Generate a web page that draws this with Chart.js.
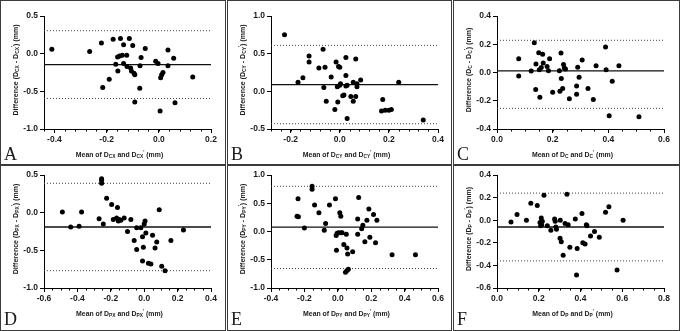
<!DOCTYPE html>
<html><head><meta charset="utf-8">
<script src="https://cdn.jsdelivr.net/npm/chart.js@4.4.1/dist/chart.umd.min.js"></script>
<style>
html,body{margin:0;padding:0;background:#fff}
body{width:680px;height:331px;position:relative;overflow:hidden;font-family:"Liberation Sans",Arial,sans-serif;color:#1a1a1a}
.panel{position:absolute;background:#fff}
.frame{position:absolute;left:0;top:0;right:0;bottom:0;border:1px solid #3c3c3c;pointer-events:none}
.panel canvas{position:absolute;left:0;top:0}
.xt{position:absolute;font-weight:bold;font-size:6.9px;white-space:nowrap;transform:translate(-50%,-50%);line-height:1}
.yt{position:absolute;font-weight:bold;font-size:7px;white-space:nowrap;transform:translate(-50%,-50%) rotate(-90deg);line-height:1}
sub{font-size:70%;vertical-align:-0.25em;line-height:0}
sup{font-size:70%;vertical-align:0.55em;line-height:0}
.lt{position:absolute;font-family:"Liberation Serif","Times New Roman",serif;font-size:18px;line-height:1}
</style>
</head><body>
<script>
// ---------- Panel A : D_CX ----------
const aMeanX = [-0.41,-0.265,-0.22,-0.215,-0.19,-0.175,-0.165,-0.158,-0.157,-0.15,-0.147,-0.14,-0.135,-0.135,-0.123,-0.122,-0.113,-0.108,-0.1,-0.105,-0.095,-0.092,-0.092,-0.073,-0.072,-0.068,-0.052,-0.012,-0.003,0.005,0.007,0.011,0.016,0.035,0.035,0.057,0.062,0.13];
const aDiff  = [0.06,0.03,0.14,-0.45,-0.34,0.19,-0.14,-0.045,-0.23,-0.03,0.2,-0.02,0.12,-0.13,-0.02,-0.17,0.2,-0.19,0.11,-0.23,-0.26,-0.28,-0.64,-0.46,-0.16,-0.05,0.07,-0.1,-0.13,-0.76,-0.32,-0.28,-0.25,0.05,-0.16,-0.06,-0.65,-0.31];
const aLines = [-0.145, 0.305, -0.595];           // bias, upper LoA, lower LoA
const aXTicks = [-0.4,-0.2,0.0,0.2];
const aYTicks = [-1.0,-0.5,0.0,0.5];

// ---------- Panel B : D_CY ----------
const bMeanX = [-0.225,-0.17,-0.15,-0.125,-0.125,-0.085,-0.06,-0.068,-0.065,-0.055,-0.035,-0.02,-0.015,-0.005,0.0,-0.01,-0.008,0.0,0.003,0.012,0.017,0.025,0.025,0.025,0.03,0.03,0.045,0.055,0.055,0.065,0.065,0.07,0.07,0.085,0.175,0.17,0.185,0.2,0.21,0.24,0.34];
const bDiff  = [0.75,0.12,0.18,0.47,0.39,0.31,0.32,0.56,0.05,-0.13,0.19,-0.24,0.39,0.33,0.32,0.06,-0.14,0.08,0.1,-0.06,-0.05,0.21,0.45,0.07,0.08,-0.36,-0.07,-0.13,0.12,0.43,-0.07,0.1,0.06,0.15,-0.11,-0.26,-0.25,-0.25,-0.24,0.12,-0.38];
const bLines = [0.09, 0.61, -0.43];
const bXTicks = [-0.2,0.0,0.2,0.4];
const bYTicks = [-0.5,0.0,0.5,1.0];

// ---------- Panel C : D_C ----------
const cMeanX = [0.078,0.078,0.123,0.134,0.14,0.139,0.15,0.152,0.154,0.159,0.164,0.166,0.18,0.185,0.189,0.2,0.224,0.226,0.23,0.231,0.236,0.239,0.242,0.246,0.26,0.286,0.286,0.29,0.295,0.306,0.327,0.346,0.356,0.39,0.392,0.403,0.414,0.438,0.51];
const cDiff  = [0.097,-0.024,0.01,0.21,0.06,-0.12,0.14,0.02,-0.175,0.036,0.13,0.067,0.043,0.012,0.097,-0.14,0.012,-0.133,0.138,-0.043,-0.114,0.057,0.031,0.024,-0.185,-0.095,-0.154,0.038,-0.033,0.088,-0.114,-0.192,0.048,0.18,0.02,-0.306,-0.062,0.048,-0.313];
const cLines = [0.012, 0.228, -0.254];
const cXTicks = [0.0,0.2,0.4,0.6];
const cYTicks = [-0.4,-0.2,0.0,0.2,0.4];

// ---------- Panel D : D_PX ----------
const dMeanX = [-0.49,-0.44,-0.39,-0.375,-0.27,-0.255,-0.255,-0.255,-0.245,-0.225,-0.195,-0.185,-0.16,-0.165,-0.155,-0.15,-0.14,-0.12,-0.1,-0.08,-0.06,-0.045,-0.045,-0.02,-0.01,-0.01,-0.005,0.0,0.005,0.01,0.025,0.04,0.05,0.065,0.075,0.09,0.105,0.125,0.16,0.235];
const dDiff  = [0.01,-0.19,-0.18,0.01,-0.08,0.45,0.43,0.39,-0.15,0.19,0.11,-0.09,0.07,-0.07,-0.11,-0.09,-0.1,-0.07,-0.25,-0.09,-0.37,-0.49,-0.2,-0.2,-0.32,-0.64,-0.46,-0.15,-0.11,-0.27,-0.67,-0.68,-0.3,-0.47,-0.39,0.04,-0.71,-0.77,-0.37,-0.23];
const dLines = [-0.19, 0.39, -0.77];
const dXTicks = [-0.6,-0.4,-0.2,0.0,0.2,0.4];
const dYTicks = [-1.0,-0.5,0.0,0.5];

// ---------- Panel E : D_PY ----------
const eMeanX = [-0.238,-0.244,-0.236,-0.2,-0.154,-0.154,-0.139,-0.113,-0.073,-0.081,-0.05,-0.014,-0.008,-0.01,-0.004,0.012,0.018,0.004,0.018,0.026,0.036,0.051,0.055,0.059,0.046,0.055,0.063,0.089,0.125,0.119,0.119,0.143,0.15,0.162,0.174,0.186,0.192,0.214,0.226,0.234,0.325,0.465];
const eDiff  = [0.58,0.27,0.26,0.06,0.8,0.75,0.47,0.33,0.14,0.02,0.47,0.58,-0.33,-0.07,-0.03,0.33,0.27,-0.02,-0.02,-0.02,-0.23,-0.05,-0.29,-0.4,-0.72,-0.69,-0.67,-0.36,0.6,0.22,-0.05,0.05,0.11,-0.18,0.2,0.4,-0.1,0.3,-0.2,0.2,-0.41,-0.41];
const eLines = [0.077, 0.8, -0.655];
const eXTicks = [-0.4,-0.2,0.0,0.2,0.4,0.6];
const eYTicks = [-1.0,-0.5,0.0,0.5,1.0];

// ---------- Panel F : D_P ----------
const fMeanX = [0.067,0.096,0.141,0.162,0.193,0.206,0.209,0.214,0.212,0.225,0.217,0.241,0.258,0.276,0.279,0.285,0.282,0.303,0.302,0.308,0.317,0.326,0.335,0.341,0.349,0.375,0.381,0.384,0.407,0.411,0.422,0.428,0.431,0.448,0.467,0.49,0.52,0.536,0.575,0.604];
const fDiff  = [-0.015,0.05,0.0,0.15,0.13,-0.02,-0.05,-0.04,0.02,0.22,-0.01,-0.05,-0.09,0.01,-0.01,-0.08,-0.06,0.0,-0.16,-0.19,-0.31,-0.03,0.23,-0.04,-0.24,0.01,-0.485,-0.25,0.06,-0.2,-0.21,-0.04,-0.05,-0.14,-0.1,-0.15,0.07,0.12,-0.44,0.0];
const fLines = [-0.06, 0.24, -0.36];
const fXTicks = [0.0,0.2,0.4,0.6,0.8];
const fYTicks = [-0.6,-0.4,-0.2,0.0,0.2,0.4];

const panelLetters = ['A','B','C','D','E','F'];
const panelSubs = ['CX','CY','C','PX','PY','P'];

// ---------- layout (positions only) ----------
const panels = [
  {L:panelLetters[0], sub:panelSubs[0], x:aMeanX, y:aDiff, lines:aLines, xt:aXTicks, yt:aYTicks, xr:[-0.44,0.2], yr:[-1,0.5], minor:0.04, box:[0,0,226,165], row:0},
  {L:panelLetters[1], sub:panelSubs[1], x:bMeanX, y:bDiff, lines:bLines, xt:bXTicks, yt:bYTicks, xr:[-0.28,0.4], yr:[-0.5,1], minor:0.04, box:[227,0,225,165], row:0},
  {L:panelLetters[2], sub:panelSubs[2], x:cMeanX, y:cDiff, lines:cLines, xt:cXTicks, yt:cYTicks, xr:[0,0.6], yr:[-0.4,0.4], minor:0.05, box:[453,0,227,165], row:0},
  {L:panelLetters[3], sub:panelSubs[3], x:dMeanX, y:dDiff, lines:dLines, xt:dXTicks, yt:dYTicks, xr:[-0.6,0.4], yr:[-1,0.5], minor:0.05, box:[0,165,226,166], row:1},
  {L:panelLetters[4], sub:panelSubs[4], x:eMeanX, y:eDiff, lines:eLines, xt:eXTicks, yt:eYTicks, xr:[-0.4,0.6], yr:[-1,1], minor:0.05, box:[227,165,225,166], row:1},
  {L:panelLetters[5], sub:panelSubs[5], x:fMeanX, y:fDiff, lines:fLines, xt:fXTicks, yt:fYTicks, xr:[0,0.8], yr:[-0.6,0.4], minor:0.05, box:[453,165,227,166], row:1}
];
const geom = [{top:16,bottom:129,xtY:155,ytY:70},{top:10,bottom:123,xtY:149,ytY:64}];
const PL = 44, PR = 211;

const minorPlugin = {
  id:'minor',
  afterDraw(chart, args, opts){
    const s = chart.scales.x, ctx = chart.ctx, step = opts.step;
    if(!step) return;
    ctx.save(); ctx.strokeStyle='#000'; ctx.lineWidth=1;
    const n0 = Math.ceil(s.min/step - 1e-6), n1 = Math.floor(s.max/step + 1e-6);
    for(let n=n0;n<=n1;n++){
      const v = n*step;
      const px = Math.round(s.getPixelForValue(v)) + 0.5;
      ctx.beginPath(); ctx.moveTo(px, s.top); ctx.lineTo(px, s.top+2.5); ctx.stroke();
    }
    ctx.restore();
  }
};

const fmt = v => (Math.abs(v)<1e-9 ? '0.0' : v.toFixed(1));
const tickFont = {family:'"Liberation Sans", Arial, sans-serif', size:8.5, weight:'bold'};

panels.forEach(p=>{
  const [bx,by,bw,bh] = p.box;
  const g = geom[p.row];
  const div = document.createElement('div');
  div.className='panel';
  div.style.cssText = `left:${bx}px;top:${by}px;width:${bw}px;height:${bh}px`;
  const cv = document.createElement('canvas');
  cv.width = bw; cv.height = bh;
  cv.style.width = bw+'px'; cv.style.height = bh+'px';
  div.appendChild(cv);
  const frame = document.createElement('div'); frame.className='frame'; div.appendChild(frame);
  const s = p.sub;
  const xt = document.createElement('div'); xt.className='xt';
  xt.innerHTML = `Mean of D<sub>${s}</sub> and D<sub>${s}</sub><sup>'</sup> (mm)`;
  xt.style.left = ((PL+PR)/2 - 8)+'px'; xt.style.top = g.xtY+'px';
  div.appendChild(xt);
  const yt = document.createElement('div'); yt.className='yt';
  yt.innerHTML = `Difference (D<sub>${s}</sub> - D<sub>${s}</sub><sup>'</sup>) (mm)`;
  yt.style.left = '15px'; yt.style.top = g.ytY+'px';
  div.appendChild(yt);
  const lt = document.createElement('div'); lt.className='lt';
  lt.textContent = p.L; lt.style.left='4px'; lt.style.top='145px';
  div.appendChild(lt);
  document.body.appendChild(div);

  const lineDs = (yv, dash, col, w) => ({
    type:'line', data:[{x:p.xr[0],y:yv},{x:p.xr[1],y:yv}], borderColor:col, borderWidth:w,
    borderDash:dash, pointRadius:0, fill:false, order:2
  });
  new Chart(cv, {
    type:'scatter',
    data:{datasets:[
      {data:p.x.map((v,i)=>({x:v,y:p.y[i]})), pointRadius:2.5, pointBackgroundColor:'#000', pointBorderColor:'#000', pointBorderWidth:0, order:0},
      lineDs(p.lines[0], [], '#111', 1.3),
      lineDs(p.lines[1], [1,2], '#444', 1),
      lineDs(p.lines[2], [1,2], '#444', 1)
    ]},
    options:{
      responsive:false, animation:false, events:[],
      layout:{padding:{left:0, top:g.top, right:bw-PR, bottom:0}},
      plugins:{legend:{display:false}, tooltip:{enabled:false}, minor:{step:p.minor}},
      scales:{
        x:{type:'linear', min:p.xr[0], max:p.xr[1],
           afterBuildTicks:sc=>{sc.ticks = p.xt.map(v=>({value:v}));},
           afterFit:sc=>{sc.height = bh - g.bottom;},
           grid:{display:true, drawOnChartArea:false, drawTicks:true, tickLength:4, color:'#000', lineWidth:1},
           border:{display:true, color:'#000', width:1},
           ticks:{font:tickFont, color:'#1a1a1a', padding:2, maxRotation:0, autoSkip:false, callback:v=>fmt(v)}},
        y:{type:'linear', min:p.yr[0], max:p.yr[1],
           afterBuildTicks:sc=>{sc.ticks = p.yt.map(v=>({value:v}));},
           afterFit:sc=>{sc.width = PL;},
           grid:{display:true, drawOnChartArea:false, drawTicks:true, tickLength:4, color:'#000', lineWidth:1},
           border:{display:true, color:'#000', width:1},
           ticks:{font:tickFont, color:'#1a1a1a', padding:2, autoSkip:false, callback:v=>fmt(v)}}
      }
    },
    plugins:[minorPlugin]
  });
});
</script>
</body></html>
